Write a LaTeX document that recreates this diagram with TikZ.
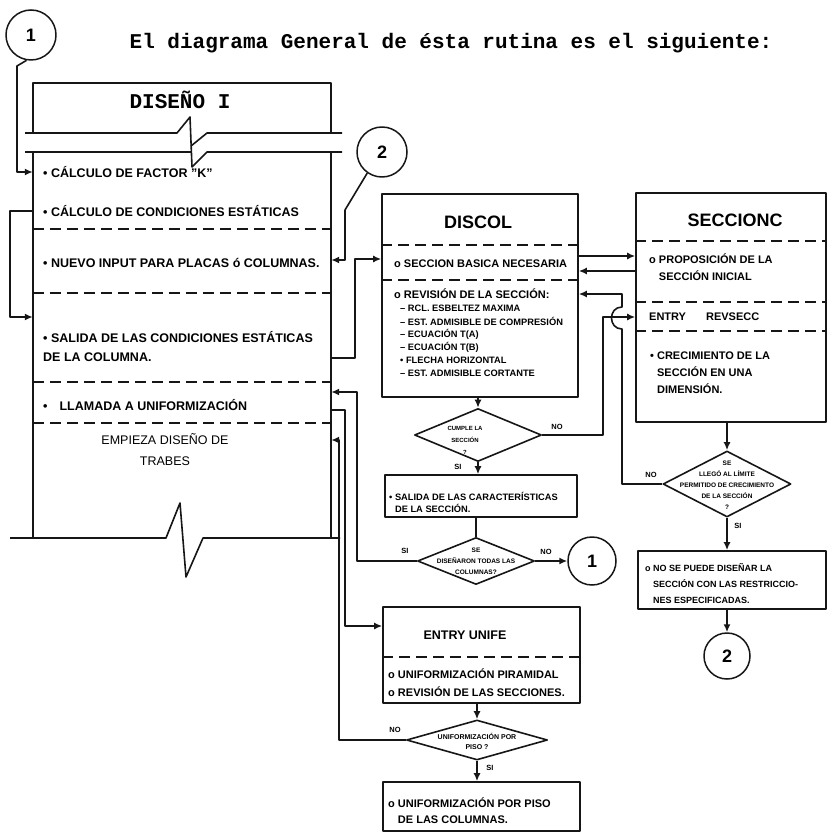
\documentclass[tikz,border=0pt]{standalone}
\usepackage{fontspec}
\setmainfont{Liberation Sans}
\newfontfamily\maquina{Liberation Mono}
\usetikzlibrary{arrows.meta,shapes.geometric}
\definecolor{tinta}{HTML}{161616}

\tikzset{
  caja/.style={draw=tinta,line width=1.6pt,inner sep=0pt},
  rombo/.style={diamond,draw=tinta,line width=1.6pt,inner sep=0pt},
  circulo/.style={circle,draw=tinta,line width=1.5pt,inner sep=0pt,minimum size=50pt,font=\bfseries\fontsize{18}{18}\selectfont},
  linea/.style={draw=tinta,line width=1.6pt},
  flecha/.style={linea,-{Latex[length=8pt,width=7pt]}},
  corte/.style={draw=tinta,line width=1.4pt,dash pattern=on 11pt off 6pt},
  txt/.style={anchor=west,inner sep=0pt,align=left,font=\bfseries\fontsize{12.5}{19}\selectfont},
  txtp/.style={anchor=west,inner sep=0pt,align=left,font=\bfseries\fontsize{11}{17}\selectfont},
  txtq/.style={anchor=west,inner sep=0pt,align=left,font=\bfseries\fontsize{9.3}{12}\selectfont},
  mini/.style={inner sep=0pt,align=center,font=\bfseries\fontsize{6.5}{11}\selectfont},
  lbl/.style={inner sep=0pt,font=\bfseries\fontsize{7.5}{8}\selectfont},
  maq/.style={inner sep=0pt,font=\maquina\bfseries\fontsize{21}{21}\selectfont},
}

\begin{document}
\begin{tikzpicture}[x=1pt,y=-1pt,line join=round]
\useasboundingbox (0,0) rectangle (830,834);

\node[maq] (titulo) at (451,43) {El diagrama General de ésta rutina es el siguiente:};

% DISEÑO I
\node[inner sep=0pt,minimum width=298pt,minimum height=455pt] (dis) at (182,310.5) {};
\draw[linea] (dis.north west) ++(0,50) -- (dis.north west) -- (dis.north east) -- ++(0,50);
\draw[linea] (dis.south west) -- ++(0,-387) (dis.south east) -- ++(0,-387);
\node[maq] (distit) at (180,100) {DISEÑO I};
\draw[linea] (25,133) -- (177,133) -- (190,117) -- (192,167) -- (207,152) -- (342,152);
\draw[linea] (25,152) -- (191,152) (191,146) -- (207,133) -- (342,133);
\draw[linea] (10,538) -- (166,538) -- (180,503) -- (186,577) -- (203,538) -- (340,538);
\foreach \y in {229,293,382,423}
  \draw[corte] (dis.west |- 0,\y) -- (dis.east |- 0,\y);
\node[txt] (kfac) at (43,172) {• CÁLCULO DE FACTOR "K"};
\node[txt] (cond) at (43,211) {• CÁLCULO DE CONDICIONES ESTÁTICAS};
\node[txt] (nuevo) at (43,263) {• NUEVO INPUT PARA PLACAS ó COLUMNAS.};
\node[txt] (salcond) at (43,347) {• SALIDA DE LAS CONDICIONES ESTÁTICAS\\DE LA COLUMNA.};
\node[txt] (llamada) at (43,405) {•\hspace{12pt}LLAMADA A UNIFORMIZACIÓN};
\node[inner sep=0pt,align=center,font=\fontsize{12.5}{21}\selectfont] (empieza) at (165,450) {EMPIEZA DISEÑO DE\\TRABES};

\node[circulo] (cuno) at (31,35) {1};
\draw[flecha] (cuno.-100) -- (17,66) |- (dis.west |- kfac);
\draw[flecha] (dis.west |- cond) -- ++(-23,0) |- (dis.west |- 0,317);
\node[circulo] (cdos) at (382,152) {2};
\draw[flecha] (cdos.-125) -- (345,210) |- (dis.east |- 0,260);

% DISCOL
\node[caja,minimum width=196pt,minimum height=203pt] (discol) at (480,295.5) {};
\node[font=\bfseries\fontsize{18}{18}\selectfont] (discoltit) at (478,222) {DISCOL};
\foreach \y in {245,280}
  \draw[corte] (discol.west |- 0,\y) -- (discol.east |- 0,\y);
\node[txtp] (basica) at (394,264) {o SECCION BASICA NECESARIA};
\node[txtp] (revis) at (394,294) {o REVISIÓN DE LA SECCIÓN:};
\foreach \t [count=\i] in {– RCL. ESBELTEZ MAXIMA,– EST. ADMISIBLE DE COMPRESIÓN,– ECUACIÓN T(A),– ECUACIÓN T(B),• FLECHA HORIZONTAL,– EST. ADMISIBLE CORTANTE}
  \node[txtq] (rev\i) at (400,295+13*\i) {\t};
\draw[flecha] (dis.east |- 0,358) -- (355,358) |- (discol.west |- 0,259);

% SECCIONC
\node[caja,minimum width=190pt,minimum height=229pt] (secc) at (731,307.5) {};
\node[font=\bfseries\fontsize{18}{18}\selectfont] (secctit) at (735,220) {SECCIONC};
\foreach \y in {241,302,331}
  \draw[corte] (secc.west |- 0,\y) -- (secc.east |- 0,\y);
\node[txtp] (propos) at (649,267) {o PROPOSICIÓN DE LA\\\phantom{o }SECCIÓN INICIAL};
\node[font=\bfseries\fontsize{11}{11}\selectfont,anchor=west,inner sep=0pt] (revsecc) at (649,317) {ENTRY\hspace{20pt}REVSECC};
\node[txtp] (crec) at (650,373) {• CRECIMIENTO DE LA\\\phantom{• }SECCIÓN EN UNA\\\phantom{• }DIMENSIÓN.};
\draw[flecha] (discol.east |- 0,256) -- (secc.west |- 0,256);
\draw[flecha] (secc.west |- 0,271) -- (discol.east |- 0,271);

\node[rombo,minimum width=128pt,minimum height=66pt] (limite) at (727,484) {};
\node[mini] (limitetxt) at (727,485) {SE\\LLEGÓ AL LÍMITE\\PERMITIDO DE CRECIMIENTO\\DE LA SECCIÓN\\?};
\draw[flecha] (limite.north |- secc.south) -- (limite.north);
\draw[flecha] (limite.west) -- (622,484) -- (622,329) .. controls (608,329) and (608,307) .. (622,307) |- (discol.east |- revis);
\node[lbl] (limno) at (651,475) {NO};

\node[caja,minimum width=188pt,minimum height=58pt] (nopuede) at (732,580) {};
\node[txtq,font=\bfseries\fontsize{9}{16}\selectfont] (nopuedetxt) at (645,584) {o NO SE PUEDE DISEÑAR LA\\\phantom{o }SECCIÓN CON LAS RESTRICCIO-\\\phantom{o }NES ESPECIFICADAS.};
\draw[flecha] (limite.south) -- (limite.south |- nopuede.north);
\node[lbl] (limsi) at (738,526) {SI};
\node[circulo,minimum size=46pt] (cdosb) at (727,656) {2};
\draw[flecha] (limite.south |- nopuede.south) -- (cdosb.north);

% CUMPLE / SALIDA
\node[rombo,minimum width=127pt,minimum height=53pt] (cumple) at (478,435) {};
\node[mini,font=\bfseries\fontsize{6}{12}\selectfont] (cumpletxt) at (465,440) {CUMPLE LA\\SECCIÓN\\?};
\draw[flecha] (cumple.north |- discol.south) -- (cumple.north);
\draw[flecha] (cumple.east) -- (603,435) |- (secc.west |- revsecc);
\node[lbl] (cumno) at (557,427) {NO};
\node[caja,minimum width=192pt,minimum height=42pt] (salida) at (481,496) {};
\node[txtq] (salidatxt) at (389,502) {• SALIDA DE LAS CARACTERÍSTICAS\\\phantom{• }DE LA SECCIÓN.};
\draw[flecha] (cumple.south) -- (cumple.south |- salida.north);
\node[lbl] (cumsi) at (458,467) {SI};

\node[rombo,minimum width=117pt,minimum height=47pt] (sedis) at (476,561) {};
\node[mini] (sedistxt) at (476,561) {SE\\DISEÑARON TODAS LAS\\COLUMNAS?};
\draw[linea] (sedis.north |- salida.south) -- (sedis.north);
\node[circulo,minimum size=48pt] (cunob) at (592,561) {1};
\draw[flecha] (sedis.east) -- (cunob.west);
\node[lbl] (sedno) at (546,552) {NO};
\draw[flecha] (sedis.west) -- (357,561) |- (dis.east |- 0,392);
\node[lbl] (sedsi) at (405,551) {SI};

% UNIFE
\node[caja,minimum width=197pt,minimum height=96pt] (unife) at (481.5,655) {};
\draw[flecha] (dis.east |- 0,410) -- (345,410) |- (unife.west |- 0,626);
\node[font=\bfseries\fontsize{12.5}{13}\selectfont,inner sep=0pt] (unifetit) at (465,635) {ENTRY UNIFE};
\draw[corte] (unife.west |- 0,657) -- (unife.east |- 0,657);
\node[txtp] (piramidal) at (388,674) {o UNIFORMIZACIÓN PIRAMIDAL};
\node[txtp] (revsecs) at (388,692) {o REVISIÓN DE LAS SECCIONES.};

\node[rombo,minimum width=141pt,minimum height=40pt] (piso) at (477,740) {};
\node[mini,font=\bfseries\fontsize{7}{10}\selectfont] (pisotxt) at (477,741) {UNIFORMIZACIÓN POR\\PISO ?};
\draw[flecha] (piso.north |- unife.south) -- (piso.north);
\draw[flecha] (piso.west) -- (339,740) |- (dis.east |- 0,440);
\node[lbl] (pisono) at (395,730) {NO};
\node[caja,minimum width=197pt,minimum height=49pt] (unipiso) at (481.5,806.5) {};
\draw[flecha] (piso.south) -- (piso.south |- unipiso.north);
\node[lbl] (pisosi) at (490,768) {SI};
\node[txtp,font=\bfseries\fontsize{11}{16}\selectfont] (unipisotxt) at (388,811) {o UNIFORMIZACIÓN POR PISO\\\phantom{o }DE LAS COLUMNAS.};
\end{tikzpicture}
\end{document}
